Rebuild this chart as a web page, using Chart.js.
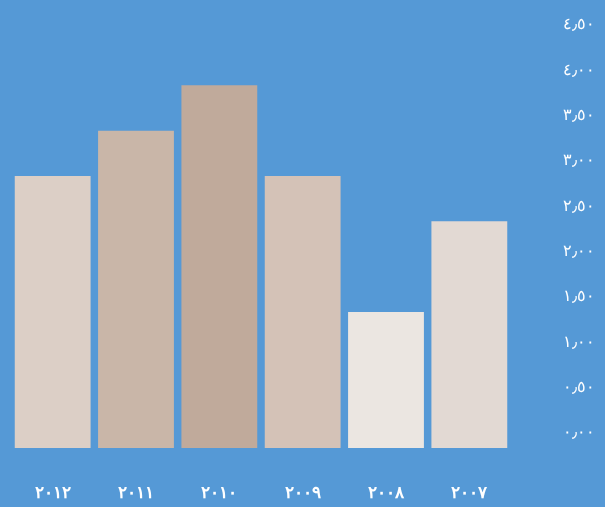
<!DOCTYPE html>
<html>
<head>
  <meta charset="utf-8">
  <title>Chart</title>
  <script src="https://cdn.jsdelivr.net/npm/chart.js"></script>
  <style>
    html, body { margin: 0; padding: 0; background: #5599d6; }
    #wrap { width: 605px; height: 507px; }
  </style>
</head>
<body>
  <div id="wrap"><canvas id="chart"></canvas></div>

  <script>
    // years, chronological; the x axis is reversed so 2012 is drawn on the left
    const years = ['٢٠٠٧', '٢٠٠٨', '٢٠٠٩', '٢٠١٠', '٢٠١١', '٢٠١٢'];
    const values = [2.5, 1.5, 3.0, 4.0, 3.5, 3.0];
    const barColors = ['#e2d9d3', '#ebe6e1', '#d4c2b7', '#c0aa9b', '#c9b6a8', '#dccfc6'];
    const yTicks = [0, 0.5, 1, 1.5, 2, 2.5, 3, 3.5, 4, 4.5];
    const yTickLabels = ['٠٫٠٠', '٠٫٥٠', '١٫٠٠', '١٫٥٠', '٢٫٠٠', '٢٫٥٠', '٣٫٠٠', '٣٫٥٠', '٤٫٠٠', '٤٫٥٠'];

    const ctx = document.getElementById('chart').getContext('2d');
    new Chart(ctx, {
      type: 'bar',
      data: {
        labels: years,
        datasets: [{
          data: values,
          backgroundColor: barColors,
          borderWidth: 0,
          barPercentage: 0.91,
          categoryPercentage: 1.0
        }]
      },
      options: {
        responsive: true,
        maintainAspectRatio: false,
        animation: false,
        layout: { padding: { left: 11, top: 40, right: 0, bottom: 0 } },
        plugins: { legend: { display: false }, tooltip: { enabled: false } },
        scales: {
          x: {
            reverse: true,
            grid: { display: false, drawTicks: false },
            border: { display: false },
            ticks: {
              color: '#ffffff',
              padding: 35,
              font: { family: 'sans-serif', size: 17, weight: 'bold' }
            },
            afterFit: function(scale) {
              scale.height = 59;
              scale.paddingLeft = 0;
              scale.paddingRight = 0;
            }
          },
          y: {
            position: 'right',
            min: 0,
            max: 4.5,
            grid: { display: false, drawTicks: false },
            border: { display: false },
            afterBuildTicks: function(scale) {
              scale.ticks = yTicks.map(function(v) { return { value: v }; });
            },
            ticks: {
              color: '#ffffff',
              padding: 52,
              labelOffset: -15,
              font: { family: 'sans-serif', size: 16 },
              callback: function(value) {
                return yTickLabels[yTicks.indexOf(value)];
              }
            },
            afterFit: function(scale) {
              scale.width = 94;
              scale.paddingTop = 0;
              scale.paddingBottom = 0;
            }
          }
        }
      }
    });
  </script>
</body>
</html>
